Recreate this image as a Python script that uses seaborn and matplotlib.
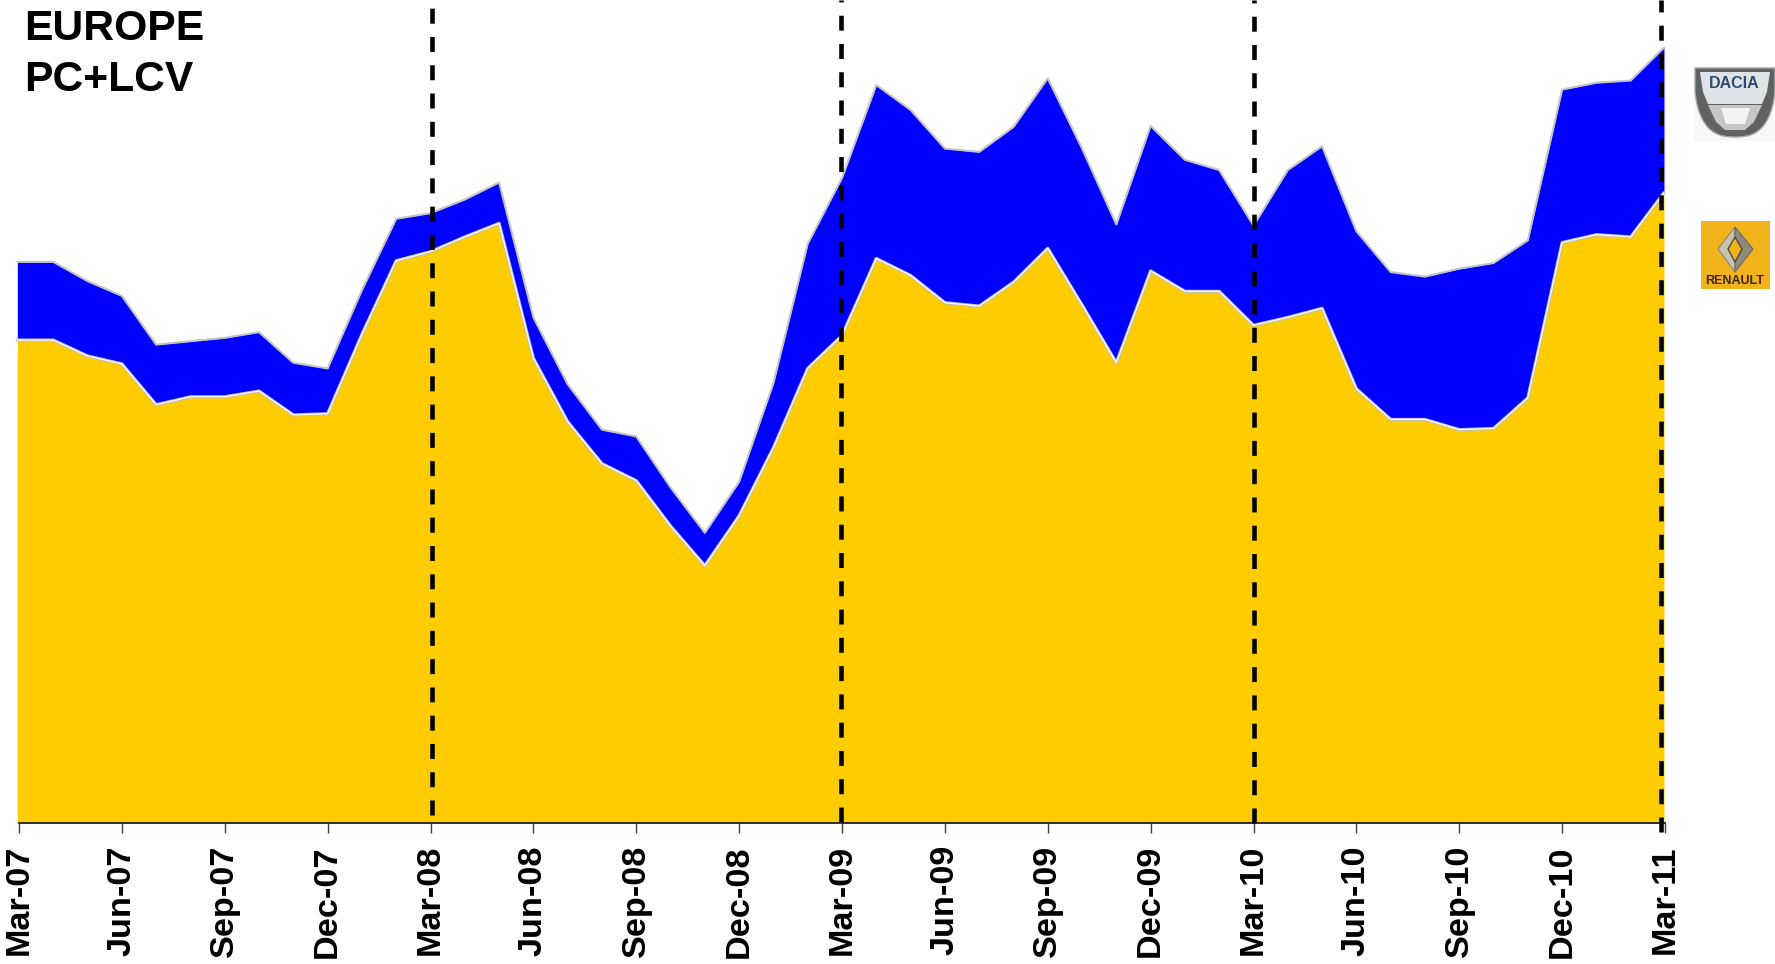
import seaborn as sns
import matplotlib.pyplot as plt
import numpy as np
import pandas as pd
from matplotlib.patches import Rectangle, Polygon, PathPatch
from matplotlib.path import Path

# arbitrary units since the chart has no y axis
months = pd.date_range('2007-03-01', '2011-03-01', freq='MS')
renault = [426, 426, 412, 405, 369, 376, 376, 381, 360, 361, 431, 496, 504, 517, 529,
           410, 354, 317, 302, 262, 227, 271, 331, 401, 430, 498, 483, 459, 456, 477,
           507, 457, 406, 487, 469, 469, 439, 446, 454, 383, 356, 356, 347, 348, 375,
           512, 519, 517, 556]
total = [495, 495, 478, 465, 422, 425, 428, 433, 406, 401, 470, 533, 538, 550, 565,
         446, 387, 347, 341, 296, 256, 301, 388, 511, 569, 651, 629, 595, 592, 614,
         657, 595, 528, 615, 585, 576, 527, 576, 597, 522, 486, 482, 489, 494, 514,
         647, 653, 655, 684]
tick_months = months[::3]

W, H = 1775, 964
sns.set_theme(style='white')
plt.rcParams['font.family'] = ['Liberation Sans', 'DejaVu Sans']

df = pd.DataFrame({'month': months, 'renault': renault, 'total': total})
x = np.arange(len(df))
# only the two ends of the areas sit a hair left of their ticks in the original
area_x = x.astype(float)
area_x[0] -= 0.05
area_x[-1] -= 0.03

fig = plt.figure(figsize=(W / 100, H / 100), dpi=100)
ax = fig.add_axes([19 / W, 1 - 823 / H, (1665 - 19) / W, 823 / H])

ax.fill_between(area_x, df['renault'], df['total'], color='#0000ff', lw=0, clip_on=False)
ax.fill_between(area_x, 0, df['renault'], color='#ffcc00', lw=0, clip_on=False)
sns.lineplot(x=area_x, y=df['total'], color='#c4c4c4', lw=1.5, ax=ax, clip_on=False)
sns.lineplot(x=area_x, y=df['renault'], color='#bdbdbd', lw=2.3, ax=ax, clip_on=False)
sns.lineplot(x=area_x, y=df['renault'], color='#f6f6f6', lw=1.0, ax=ax, clip_on=False)

# dashed year marks, each drawn upwards from where it stops at the bottom
for pos, bottom in zip([12.03, 23.97, 36.02, 47.89], [7, 1, 0, -8]):
    ax.plot([pos, pos], [bottom, 726], color='black', lw=3.3, ls=(0, (3.27, 2.9)),
            zorder=5, clip_on=False)

ax.set_xlim(0, 48)
ax.set_ylim(0, 726)
ax.set_ylabel('')
ax.set_yticks([])
ax.set_xticks(x[::3])
ax.set_xticklabels([m.strftime('%b-%y') for m in tick_months], rotation=90,
                   fontsize=24.7, fontweight='bold', color='black')
ax.tick_params(axis='x', length=7.5, width=1, color='#404040', pad=8.4, bottom=True)
sns.despine(ax=ax, left=True, right=True, top=True)
ax.spines['bottom'].set_color('#202020')
ax.spines['bottom'].set_linewidth(1.3)

fig.text(24.5 / W, 1 - 40.5 / H, 'EUROPE', fontsize=30.7, fontweight='bold', color='black')
fig.text(24.5 / W, 1 - 91 / H, 'PC+LCV', fontsize=30.7, fontweight='bold', color='black')

# logos, drawn on an overlay in pixel coordinates
ov = fig.add_axes([0, 0, 1, 1], facecolor='none')
ov.set_xlim(0, W)
ov.set_ylim(H, 0)
ov.axis('off')

# dacia badge
ov.add_patch(Rectangle((1694, 67), 81, 74, color='#f8f8f8', lw=0))
C = Path.CURVE4
shield = Path([(1695, 68), (1775, 68), (1775, 92), (1770, 136), (1748, 137), (1735, 137),
               (1722, 137), (1700, 136), (1695, 92), (1695, 68)],
              [Path.MOVETO, Path.LINETO, Path.LINETO, C, C, Path.LINETO, C, C, C, Path.CLOSEPOLY])
ov.add_patch(PathPatch(shield, fc='#5f6163', ec='#a8a8a8', lw=1))
plate = Path([(1700, 72), (1770, 72), (1767, 92), (1762, 104), (1708, 104), (1703, 92), (1700, 72)],
             [Path.MOVETO, Path.LINETO, Path.LINETO, Path.LINETO, Path.LINETO, Path.LINETO, Path.CLOSEPOLY])
ov.add_patch(PathPatch(plate, fc='#dfe2e6', lw=0))
wing = Path([(1708, 105), (1762, 105), (1754, 122), (1745, 130), (1725, 130), (1716, 122), (1708, 105)],
            [Path.MOVETO, Path.LINETO, Path.LINETO, Path.LINETO, Path.LINETO, Path.LINETO, Path.CLOSEPOLY])
ov.add_patch(PathPatch(wing, fc='#c4c6c8', lw=0))
ov.add_patch(Polygon([(1721, 108), (1750, 108), (1745, 124), (1726, 124)], fc='#f4f4f4', lw=0))
ov.text(1734.5, 84, 'DACIA', fontsize=11.5, fontweight='bold', color='#2f4a6b', ha='center', va='center')

# renault badge
ov.add_patch(Rectangle((1701, 221), 69, 68, color='#f2b21a', lw=0))
ov.add_patch(Polygon([(1735, 227), (1718, 249), (1735, 272)], fc='#c8c4b4', ec='#8a8678', lw=0.8))
ov.add_patch(Polygon([(1735, 227), (1753, 249), (1735, 272)], fc='#8e8a7c', ec='#6e6a5e', lw=0.8))
ov.add_patch(Polygon([(1735, 237), (1742, 249), (1735, 262), (1728, 249)], fc='#f2b21a', ec='#4e4a40', lw=1))
ov.text(1735, 281, 'RENAULT', fontsize=9, fontweight='bold', color='#3a2600', ha='center', va='center')

fig.savefig('out.png', dpi=100)
